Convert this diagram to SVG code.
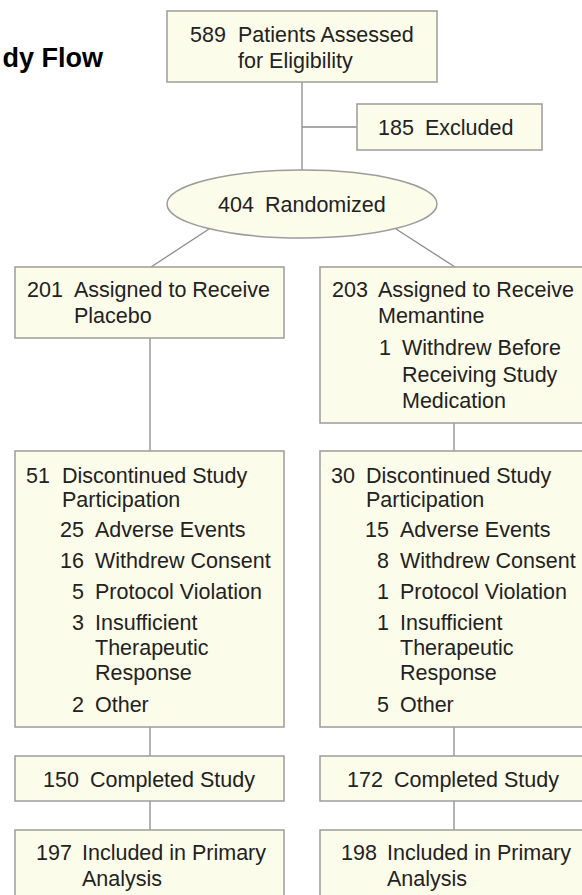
<svg xmlns="http://www.w3.org/2000/svg" width="582" height="895" viewBox="0 0 582 895">
<style>
.box{fill:#fcfcea;stroke:#9c9c9c;stroke-width:1.5}
.ln{stroke:#8c8c8c;stroke-width:1.3;fill:none}
text{font-family:"Liberation Sans",Arial,Helvetica,sans-serif;font-size:21.5px;fill:#222222}
.title{font-weight:bold;font-size:27px;fill:#000}
.e{text-anchor:end}
</style>
<rect x="0" y="0" width="582" height="895" fill="#ffffff"/>
<text class="title" x="103" y="67" text-anchor="end">dy Flow</text>
<g id="connectors">
<line class="ln" x1="302" y1="82" x2="302" y2="170"/>
<line class="ln" x1="302" y1="127" x2="357" y2="127"/>
<line class="ln" x1="209" y1="229" x2="151" y2="267"/>
<line class="ln" x1="396" y1="229" x2="455" y2="267"/>
<line class="ln" x1="150" y1="338" x2="150" y2="451"/>
<line class="ln" x1="454" y1="423" x2="454" y2="451"/>
<line class="ln" x1="150" y1="727" x2="150" y2="756"/>
<line class="ln" x1="454" y1="727" x2="454" y2="756"/>
<line class="ln" x1="150" y1="801" x2="150" y2="830"/>
<line class="ln" x1="454" y1="801" x2="454" y2="830"/>
</g>
<g id="assessed">
<rect class="box" x="167" y="11" width="270" height="71"/>
<text x="190" y="42">589</text><text x="238" y="42">Patients Assessed</text>
<text x="238" y="68">for Eligibility</text>
</g>
<g id="excluded">
<rect class="box" x="357" y="104" width="185" height="46"/>
<text x="378" y="135">185</text><text x="425" y="135">Excluded</text>
</g>
<g id="randomized">
<ellipse class="box" cx="302" cy="204" rx="135" ry="34"/>
<text x="218" y="212">404</text><text x="265" y="212">Randomized</text>
</g>
<g id="placebo">
<rect class="box" x="15" y="267" width="269" height="71"/>
<text x="27" y="297">201</text><text x="74" y="297">Assigned to Receive</text>
<text x="74" y="323">Placebo</text>
</g>
<g id="memantine">
<rect class="box" x="320" y="267" width="269" height="156"/>
<text x="332" y="297">203</text><text x="378" y="297">Assigned to Receive</text>
<text x="378" y="323">Memantine</text>
<text class="e" x="391" y="355">1</text><text x="402" y="355">Withdrew Before</text>
<text x="402" y="382">Receiving Study</text>
<text x="402" y="408">Medication</text>
</g>
<g id="disc-placebo">
<rect class="box" x="15" y="451" width="269" height="276"/>
<text x="26" y="483">51</text><text x="62" y="483">Discontinued Study</text>
<text x="62" y="507">Participation</text>
<text class="e" x="84" y="537">25</text><text x="95" y="537">Adverse Events</text>
<text class="e" x="84" y="568">16</text><text x="95" y="568">Withdrew Consent</text>
<text class="e" x="84" y="599">5</text><text x="95" y="599">Protocol Violation</text>
<text class="e" x="84" y="630">3</text><text x="95" y="630">Insufficient</text>
<text x="95" y="655">Therapeutic</text>
<text x="95" y="680">Response</text>
<text class="e" x="84" y="712">2</text><text x="95" y="712">Other</text>
</g>
<g id="disc-memantine">
<rect class="box" x="320" y="451" width="269" height="276"/>
<text x="331" y="483">30</text><text x="366" y="483">Discontinued Study</text>
<text x="366" y="507">Participation</text>
<text class="e" x="389" y="537">15</text><text x="400" y="537">Adverse Events</text>
<text class="e" x="389" y="568">8</text><text x="400" y="568">Withdrew Consent</text>
<text class="e" x="389" y="599">1</text><text x="400" y="599">Protocol Violation</text>
<text class="e" x="389" y="630">1</text><text x="400" y="630">Insufficient</text>
<text x="400" y="655">Therapeutic</text>
<text x="400" y="680">Response</text>
<text class="e" x="389" y="712">5</text><text x="400" y="712">Other</text>
</g>
<g id="completed-placebo">
<rect class="box" x="15" y="756" width="269" height="45"/>
<text x="43" y="787">150</text><text x="90" y="787">Completed Study</text>
</g>
<g id="completed-memantine">
<rect class="box" x="320" y="756" width="269" height="45"/>
<text x="347" y="787">172</text><text x="394" y="787">Completed Study</text>
</g>
<g id="analysis-placebo">
<rect class="box" x="15" y="830" width="269" height="71"/>
<text x="36" y="860">197</text><text x="82" y="860">Included in Primary</text>
<text x="82" y="886">Analysis</text>
</g>
<g id="analysis-memantine">
<rect class="box" x="320" y="830" width="269" height="71"/>
<text x="341" y="860">198</text><text x="387" y="860">Included in Primary</text>
<text x="387" y="886">Analysis</text>
</g>
</svg>
